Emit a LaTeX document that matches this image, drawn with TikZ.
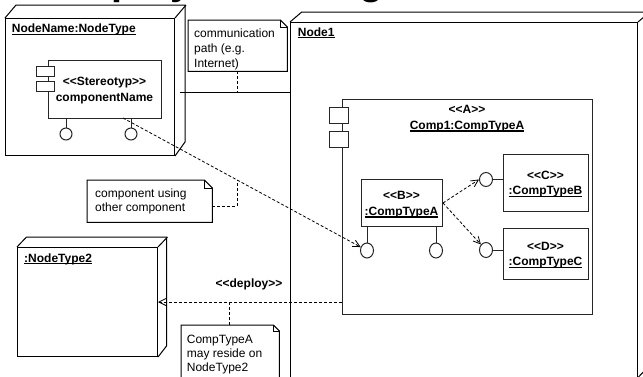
\documentclass[tikz,border=0pt]{standalone}
\usepackage{fontspec}
\setmainfont{Liberation Sans}
\usetikzlibrary{arrows.meta,calc,shapes.geometric}
\newcommand\ulx[1]{\setbox0\hbox{#1}\rlap{\vrule height -1pt depth 2.4pt width \wd0}\box0}
\newcommand\notebox[2]{%
  \fill[white] (#1.north west) -- ($(#1.north east)+(-#2,0)$) -- ($(#1.north east)+(0,#2)$) -- (#1.south east) -- (#1.south west) -- cycle;
  \draw[ln] (#1.north west) -- ($(#1.north east)+(-#2,0)$) -- ($(#1.north east)+(0,#2)$) -- (#1.south east) -- (#1.south west) -- cycle;
  \draw[ln] ($(#1.north east)+(-#2,0)$) -- ++(0,#2) -- ++(#2,0);}
\begin{document}
\begin{tikzpicture}[x=1pt,y=-1pt,
  ln/.style={line width=1pt},
  dsh/.style={line width=0.8pt, dash pattern=on 3pt off 2pt},
  dep/.style={dsh, -{Straight Barb[length=7pt,width=7pt,line width=0.8pt]}},
  sz/.style 2 args={minimum width=#1pt, minimum height=#2pt},
  face/.style={draw, ln, anchor=north west, inner sep=0pt},
  box/.style={draw=black!85, ln, anchor=north west, inner sep=0pt},
  port/.style 2 args={box, fill=white, sz={#1}{#2}},
  notebg/.style={anchor=north west, inner sep=0pt},
  lolli/.style 2 args={draw=black!85, ln, ellipse, inner sep=0pt, fill=white, minimum width=#1pt, minimum height=#2pt},
  bf/.style={font=\bfseries\fontsize{12}{15.5}\selectfont, inner sep=0pt},
  rg/.style={font=\fontsize{12}{15}\selectfont, inner sep=0pt, align=left, anchor=north west},
]
\fill[white] (0,0) rectangle (643,376);
\useasboundingbox (0,0) rectangle (643,376);

% title (cut off at the top)
\node[anchor=base west, font=\bfseries\fontsize{39.5}{42}\selectfont, inner sep=0pt] (title) at (60.5,-5.8) {Deployment Diagram};

% Node NodeName:NodeType
\node[face, sz={169}{137}] (nn) at (5,18) {};
\draw[ln] (nn.north west) -- ++(11,-13) -- ++(169,0) -- ++(0,137) -- (nn.south east);
\draw[ln] (nn.north east) -- ++(11,-13);
\node[bf, anchor=base west] (nnt) at (11.7,32.7) {\ulx{NodeName:NodeType}};

\node[box, sz={113}{58}] (cn) at (48,60) {};
\node[port={18}{10}] (cnp1) at (36,66) {};
\node[port={18}{10}] (cnp2) at (36,81) {};
\node[bf, anchor=north, align=center] (cnt) at (104.5,77) {<{}<Stereotyp>{}>\\componentName};
\node[lolli={12}{12}] (l1) at (66,134) {};
\node[lolli={12}{12}] (l2) at (131,134) {};
\draw[ln, black!85] (l1 |- cn.south) -- (l1.north);
\draw[ln, black!85] (l2 |- cn.south) -- (l2.north);

% Node1
\node[face, sz={347}{354.5}] (nd1) at (290,22) {};
\draw[ln] (nd1.north west) -- ++(11.7,-10) -- ++(347,0) -- ++(0,354.5) -- (nd1.south east);
\draw[ln] (nd1.north east) -- ++(11.7,-10);
\node[bf, anchor=base west] (nd1t) at (297.7,36) {\ulx{Node1}};

% Comp1
\node[box, sz={250}{215}] (c1) at (342,99) {};
\node[port={19}{16}] (c1p1) at (329,107) {};
\node[port={19}{16}] (c1p2) at (329,131) {};
\node[bf, anchor=north, align=center] (c1t) at (467,105.4) {<{}<A>{}>\\\ulx{Comp1:CompTypeA}};

% B
\node[box, sz={81}{47}] (cb) at (361,179) {};
\node[bf, anchor=north, align=center] (cbt) at (401.5,191.4) {<{}<B>{}>\\\ulx{:CompTypeA}};
\node[lolli={13}{15}] (lb1) at (367,250.5) {};
\node[lolli={13}{15}] (lb2) at (436,250.5) {};
\draw[ln, black!85] (lb1 |- cb.south) -- (lb1.north);
\draw[ln, black!85] (lb2 |- cb.south) -- (lb2.north);

% C
\node[box, sz={85}{57}] (cc) at (503,154) {};
\node[bf, anchor=north, align=center] (cct) at (545.5,170.7) {<{}<C>{}>\\\ulx{:CompTypeB}};
\node[lolli={13}{14}] (lc) at (486,179.5) {};
\draw[ln, black!85] (lc.east) -- (lc.east -| cc.west);

% D
\node[box, sz={85}{51}] (cd) at (503,228) {};
\node[bf, anchor=north, align=center] (cdt) at (545.5,242) {<{}<D>{}>\\\ulx{:CompTypeC}};
\node[lolli={13}{15}] (ld) at (486,250) {};
\draw[ln, black!85] (ld.east) -- (ld.east -| cd.west);

% NodeType2
\node[face, sz={140}{109}] (nt2) at (17,247) {};
\draw[ln] (nt2.north west) -- ++(9.5,-10) -- ++(140,0) -- ++(0,109) -- (nt2.south east);
\draw[ln] (nt2.north east) -- ++(9.5,-10);
\node[bf, anchor=base west] (nt2t) at (24,262) {\ulx{:NodeType2}};

% notes
\node[notebg, sz={99}{51}] (n1) at (188,20) {};
\notebox{n1}{7}
\node[rg] (n1t) at (194,28.7) {communication\\path (e.g.\\Internet)};

\node[notebg, sz={125}{42}] (n2) at (87,180) {};
\notebox{n2}{8}
\node[rg, font=\fontsize{12}{14}\selectfont] (n2t) at (95,188.1) {component using\\other component};

\node[notebg, sz={98}{55}] (n3) at (181,325) {};
\notebox{n3}{6}
\node[rg, font=\fontsize{12}{14}\selectfont] (n3t) at (186.7,335.4) {CompTypeA\\may reside on\\NodeType2};

% connectors
\coordinate (cp) at (180,92);
\draw[ln] (cp) -- (cp -| nd1.west);
\coordinate (cpm) at (237,92);
\draw[dsh] (n1.south -| cpm) -- (cpm);

\coordinate (cnout) at (123,118);
\draw[dep] (cnout) -- (lb1);
\coordinate (k2) at (237,179.7);
\coordinate (n2out) at ($(n2.east)+(0,5)$);
\draw[dsh] (n2out) -- (n2out -| k2) -- (k2);

\draw[dep] (cb.east) -- (lc.west);
\draw[dep] (cb.east) -- (ld);

\draw[dep] (c1.west |- nt2.east) -- (nt2.east);
\node[bf, anchor=base] (dpl) at (249,287) {<{}<deploy>{}>};
\coordinate (dep) at (229,301.5);
\draw[dsh] (n3.north -| dep) -- (dep);
\end{tikzpicture}
\end{document}
